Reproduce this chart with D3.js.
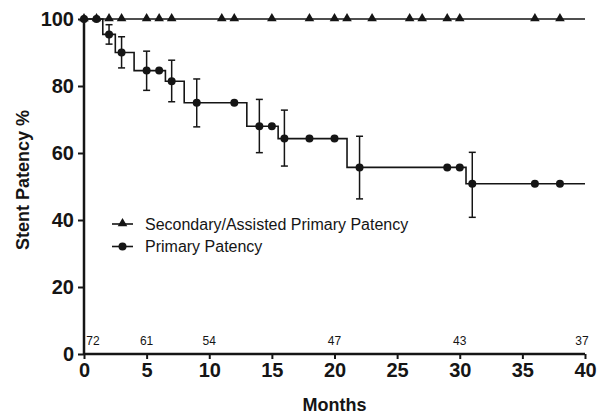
<!DOCTYPE html>
<html>
<head>
<meta charset="utf-8">
<script src="https://cdn.jsdelivr.net/npm/d3@7"></script>
<style>
  body { margin: 0; background: #fff; }
  svg { font-family: "Liberation Sans", Arial, sans-serif; }
</style>
</head>
<body>
<div id="chart"></div>
<script>
// secondary / assisted primary patency: stays at 100%, censor marks
const secondaryMarks = [0, 1, 2, 3, 5, 6, 7, 11, 12, 15, 18, 20, 21, 23, 26, 27, 29, 30, 36, 38];
const secondaryValue = 100;

// primary patency: step times and survival values
const primaryStepTimes = [0, 1.5, 2.5, 4, 6.5, 8, 13, 15.5, 21, 30.5];
const primaryStepValues = [100, 95.4, 90.0, 84.6, 81.4, 75.0, 68.0, 64.3, 55.7, 50.8];
const primaryMarkMonths = [0, 1, 2, 3, 5, 6, 7, 9, 12, 14, 15, 16, 18, 20, 22, 29, 30, 31, 36, 38];

// error bars on primary patency
const errMonths = [2, 3, 5, 7, 9, 14, 16, 22, 31];
const errLow = [92.5, 85.4, 78.7, 75.3, 67.8, 60.1, 56.1, 46.3, 40.8];
const errHigh = [98.3, 94.7, 90.4, 87.7, 82.1, 76.0, 72.8, 65.0, 60.2];

// numbers at risk
const riskMonths = [0, 5, 10, 20, 30, 40];
const riskCounts = [72, 61, 54, 47, 43, 37];

const xTicks = [0, 5, 10, 15, 20, 25, 30, 35, 40];
const yTicks = [0, 20, 40, 60, 80, 100];
const maxMonth = 40;

const width = 603, height = 415;
const margin = {top: 19, right: 18, bottom: 61, left: 84};
const ink = "#151515";

const svg = d3.select("#chart").append("svg")
  .attr("width", width)
  .attr("height", height);

const x = d3.scaleLinear().domain([0, 40]).range([margin.left, width - margin.right]);
const y = d3.scaleLinear().domain([0, 100]).range([height - margin.bottom, margin.top]);

// value of the primary curve at a given month
function primaryAt(t) {
  let v = primaryStepValues[0];
  primaryStepTimes.forEach((s, i) => { if (t >= s) v = primaryStepValues[i]; });
  return v;
}

// step line for primary patency
const stepPts = primaryStepTimes.map((t, i) => [t, primaryStepValues[i]]);
stepPts.push([maxMonth, primaryStepValues[primaryStepValues.length - 1]]);
const stepLine = d3.line()
  .x(d => x(d[0]))
  .y(d => y(d[1]))
  .curve(d3.curveStepAfter);

svg.append("path")
  .attr("d", stepLine(stepPts))
  .attr("fill", "none")
  .attr("stroke", ink)
  .attr("stroke-width", 1.6);

// flat line for secondary
svg.append("line")
  .attr("x1", x(0)).attr("x2", x(maxMonth))
  .attr("y1", y(secondaryValue)).attr("y2", y(secondaryValue))
  .attr("stroke", ink)
  .attr("stroke-width", 1.6);

// error bars
const errG = svg.append("g").attr("stroke", ink).attr("stroke-width", 1.5);
errMonths.forEach((m, i) => {
  const cx = x(m);
  errG.append("line").attr("x1", cx).attr("x2", cx).attr("y1", y(errLow[i])).attr("y2", y(errHigh[i]));
  errG.append("line").attr("x1", cx - 3.5).attr("x2", cx + 3.5).attr("y1", y(errLow[i])).attr("y2", y(errLow[i]));
  errG.append("line").attr("x1", cx - 3.5).attr("x2", cx + 3.5).attr("y1", y(errHigh[i])).attr("y2", y(errHigh[i]));
});

// markers
const tri = d3.symbol().type(d3.symbolTriangle).size(40);
svg.append("g").selectAll("path")
  .data(secondaryMarks)
  .join("path")
    .attr("d", tri)
    .attr("transform", d => `translate(${x(d)},${y(secondaryValue) - 0.5})`)
    .attr("fill", ink);

svg.append("g").selectAll("circle")
  .data(primaryMarkMonths)
  .join("circle")
    .attr("cx", d => x(d))
    .attr("cy", d => y(primaryAt(d)))
    .attr("r", 4)
    .attr("fill", ink);

// axes
const xAxis = svg.append("g")
  .attr("transform", `translate(0,${y(0)})`)
  .call(d3.axisBottom(x).tickValues(xTicks).tickSize(5).tickPadding(4));
const yAxis = svg.append("g")
  .attr("transform", `translate(${x(0)},0)`)
  .call(d3.axisLeft(y).tickValues(yTicks).tickSize(6).tickPadding(4));

[xAxis, yAxis].forEach(a => {
  a.select(".domain").attr("stroke", ink).attr("stroke-width", 2.5);
  a.selectAll(".tick line").attr("stroke", ink).attr("stroke-width", 2);
  a.selectAll(".tick text")
    .attr("fill", ink)
    .style("font-size", "20px")
    .style("font-weight", "bold")
    .style("font-family", "'Liberation Sans', Arial, sans-serif");
});
xAxis.select(".domain").attr("d", `M${x(0)},0H${x(40)}`);
yAxis.select(".domain").attr("d", `M0,${y(0)}V${y(100)}`);

// numbers at risk
svg.append("g").selectAll("text")
  .data(riskMonths)
  .join("text")
    .attr("x", (d, i) => Math.min(Math.max(x(d), x(0) + 9), x(40) - 3))
    .attr("y", y(0) - 9)
    .attr("text-anchor", "middle")
    .style("font-size", "12px")
    .attr("fill", ink)
    .text((d, i) => riskCounts[i]);

// axis titles
svg.append("text")
  .attr("x", x(20))
  .attr("y", 411)
  .attr("text-anchor", "middle")
  .style("font-size", "18px")
  .style("font-weight", "bold")
  .attr("fill", ink)
  .text("Months");

svg.append("text")
  .attr("transform", "translate(29,180) rotate(-90)")
  .attr("text-anchor", "middle")
  .style("font-size", "18px")
  .style("font-weight", "bold")
  .attr("fill", ink)
  .text("Stent Patency %");

// legend
const legendItems = ["Secondary/Assisted Primary Patency", "Primary Patency"];
const legend = svg.append("g").selectAll("g")
  .data(legendItems)
  .join("g")
    .attr("transform", (d, i) => `translate(112,${224 + i * 22.5})`);
legend.append("line")
  .attr("x1", 0).attr("x2", 21)
  .attr("stroke", ink).attr("stroke-width", 1.6);
legend.each(function(d, i) {
  const g = d3.select(this);
  if (i === 0) {
    g.append("path").attr("d", tri).attr("transform", "translate(10.5,-0.5)").attr("fill", ink);
  } else {
    g.append("circle").attr("cx", 10.5).attr("r", 4).attr("fill", ink);
  }
});
legend.append("text")
  .attr("x", 33)
  .attr("dy", "0.35em")
  .style("font-size", "16px")
  .attr("fill", ink)
  .text(d => d);
</script>
</body>
</html>
